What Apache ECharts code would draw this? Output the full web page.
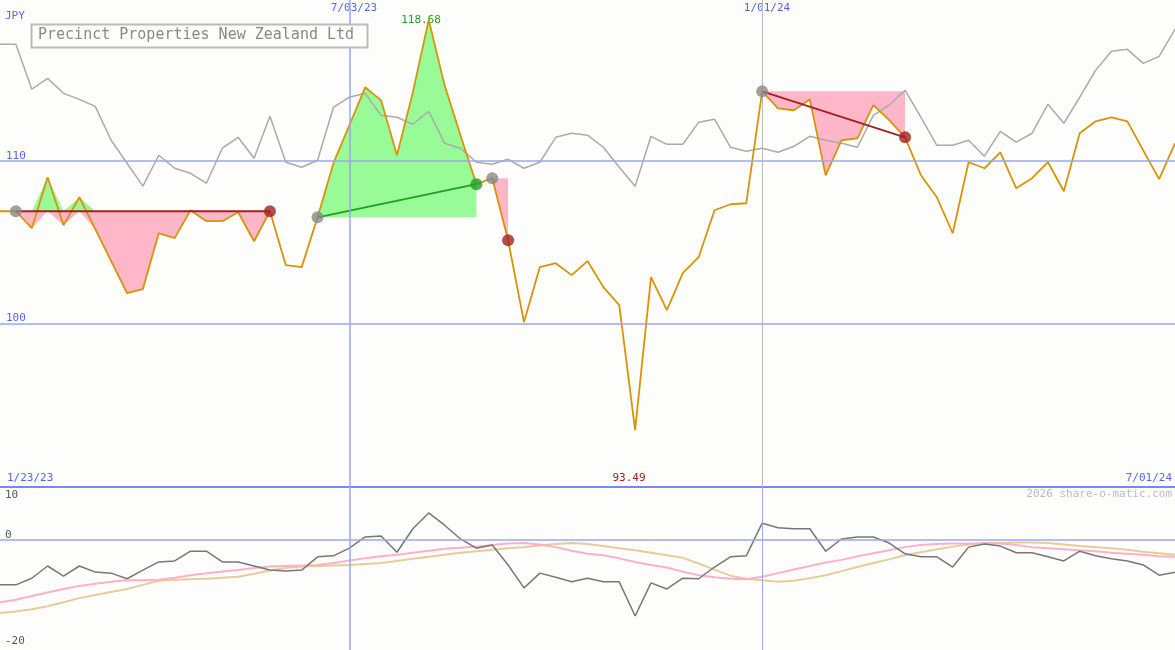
<!DOCTYPE html>
<html>
<head>
<meta charset="utf-8">
<script src="https://cdn.jsdelivr.net/npm/echarts@6/dist/echarts.min.js"></script>
<style>
html,body{margin:0;padding:0;background:#fdfefb;}
#chart{width:1175px;height:650px;}
</style>
</head>
<body>
<div id="chart"></div>
<script>
// weekly closes, 1/23/23 .. 7/01/24
var weeks = [];
for (var w = 0; w < 75; w++) weeks.push(w);

var price = [106.93,106.93,105.89,109.02,106.07,107.79,105.83,103.87,101.90,102.15,
    105.58,105.28,106.99,106.32,106.32,106.87,105.09,106.93,103.62,103.50,
    106.56,109.88,112.21,114.54,113.74,110.37,114.23,118.68,114.66,111.60,
    108.59,108.96,105.15,100.12,103.50,103.74,103.01,103.87,102.27,101.17,
    93.49,102.88,100.86,103.13,104.11,106.99,107.36,107.42,114.29,113.25,
    113.13,113.80,109.14,111.29,111.41,113.44,112.52,111.47,109.14,107.79,
    105.58,109.94,109.57,110.55,108.34,108.96,109.94,108.16,111.72,112.45,
    112.70,112.45,110.67,108.90,111.10];

var market = [117.18,117.18,114.42,115.09,114.17,113.80,113.37,111.29,109.88,108.47,
    110.37,109.57,109.26,108.65,110.80,111.47,110.18,112.76,109.94,109.63,
    110.06,113.31,113.93,114.17,112.82,112.70,112.27,113.07,111.10,110.80,
    109.94,109.82,110.12,109.57,109.94,111.47,111.72,111.60,110.86,109.63,
    108.47,111.53,111.04,111.04,112.39,112.58,110.86,110.61,110.80,110.55,
    110.92,111.53,111.29,111.10,110.86,112.82,113.44,114.36,112.70,110.98,
    110.98,111.29,110.31,111.84,111.17,111.72,113.50,112.33,113.93,115.58,
    116.75,116.87,116.01,116.44,118.10];

var momentum = [-8.8,-8.8,-7.5,-5.1,-7.1,-5.1,-6.3,-6.5,-7.6,-5.9,
    -4.3,-4.1,-2.2,-2.2,-4.3,-4.3,-5.1,-5.9,-6.1,-5.9,
    -3.3,-3.1,-1.6,0.6,0.8,-2.4,2.2,5.3,2.9,0.2,
    -1.6,-1.0,-4.9,-9.4,-6.5,-7.3,-8.2,-7.5,-8.2,-8.2,
    -14.9,-8.4,-9.6,-7.5,-7.6,-5.3,-3.3,-3.1,3.3,2.4,
    2.2,2.2,-2.2,0.2,0.6,0.6,-0.6,-2.7,-3.3,-3.3,
    -5.3,-1.4,-0.8,-1.2,-2.5,-2.5,-3.3,-4.1,-2.2,-3.1,
    -3.7,-4.1,-4.9,-6.9,-6.3];

var avgFast = [-12.2,-11.7,-11.0,-10.3,-9.6,-9.0,-8.6,-8.2,-7.9,-7.9,
    -7.8,-7.4,-6.9,-6.5,-6.2,-5.9,-5.5,-5.2,-5.1,-5.0,
    -4.9,-4.5,-4.0,-3.6,-3.2,-2.9,-2.5,-2.1,-1.7,-1.5,
    -1.3,-1.0,-0.7,-0.6,-0.9,-1.4,-2.1,-2.7,-3.0,-3.6,
    -4.3,-4.9,-5.4,-6.2,-6.9,-7.3,-7.6,-7.7,-7.2,-6.5,
    -5.8,-5.1,-4.4,-3.9,-3.2,-2.6,-2.0,-1.4,-1.0,-0.8,
    -0.7,-0.7,-0.7,-0.7,-1.0,-1.4,-1.6,-1.8,-2.0,-2.2,
    -2.5,-2.7,-2.9,-3.2,-3.3];

var avgSlow = [-14.3,-14.0,-13.6,-13.0,-12.2,-11.4,-10.8,-10.2,-9.6,-8.8,
    -8.0,-7.8,-7.7,-7.6,-7.4,-7.2,-6.6,-6.0,-5.5,-5.2,
    -5.1,-5.0,-4.9,-4.7,-4.5,-4.1,-3.7,-3.3,-2.9,-2.5,
    -2.2,-1.9,-1.6,-1.4,-1.1,-0.8,-0.6,-0.8,-1.2,-1.6,
    -2.0,-2.5,-3.0,-3.5,-4.6,-5.8,-7.0,-7.6,-7.9,-8.2,
    -8.0,-7.5,-6.9,-6.1,-5.3,-4.5,-3.8,-3.0,-2.4,-1.8,
    -1.3,-0.9,-0.6,-0.6,-0.5,-0.5,-0.6,-0.9,-1.2,-1.4,
    -1.6,-1.9,-2.3,-2.6,-2.9];

// trades: entry/exit week, reference level for the fill, exit price
var trades = [
    {from: 1, to: 17, ref: 106.93, exit: 106.93, win: false, line: true},
    {from: 20, to: 30, ref: 106.56, exit: 108.59, win: true, flat: true, line: true},
    {from: 31, to: 32, ref: 108.96, exit: 105.15, win: false, line: false},
    {from: 48, to: 57, ref: 114.29, exit: 111.47, win: false, line: true}
];

var GREEN = '#98fb98', PINK = '#ffb6c9', ORANGE = '#d9920a';
var FONT = 'DejaVu Sans Mono';

var series = [];
trades.forEach(function (t, k) {
    var base = [], up = [], down = [];
    for (var i = 0; i < price.length; i++) {
        if (i < t.from || i > t.to) { base.push(null); up.push(null); down.push(null); continue; }
        var d = price[i] - t.ref;
        base.push(t.ref);
        if (t.flat) { up.push(d); down.push(0); }
        else { up.push(Math.max(d, 0)); down.push(Math.min(d, 0)); }
    }
    ['g', 'p'].forEach(function (s) {
        series.push({type: 'line', data: base, stack: 't' + k + s, stackStrategy: 'all',
            symbol: 'none', lineStyle: {opacity: 0}, silent: true, z: 1});
    });
    series.push({type: 'line', data: up, stack: 't' + k + 'g', stackStrategy: 'all', symbol: 'none',
        lineStyle: {opacity: 0}, areaStyle: {color: GREEN, opacity: 1}, silent: true, z: 1});
    series.push({type: 'line', data: down, stack: 't' + k + 'p', stackStrategy: 'all', symbol: 'none',
        lineStyle: {opacity: 0}, areaStyle: {color: PINK, opacity: 1}, silent: true, z: 1});
});

series.push({type: 'line', data: market, symbol: 'none', lineStyle: {color: '#aaaaaa', width: 1.5}, z: 2,
    markLine: {silent: true, symbol: 'none', label: {show: false},
        data: [{yAxis: 100, lineStyle: {color: '#9aa6f0', width: 1.5, type: 'solid'}},
               {yAxis: 110, lineStyle: {color: '#9aa6f0', width: 1.5, type: 'solid'}},
               {xAxis: 22, lineStyle: {color: '#9aa6f0', width: 1.5, type: 'solid'}},
               {xAxis: 48, lineStyle: {color: '#bbbbbb', width: 1, type: 'solid'}}]}});
series.push({type: 'line', data: price, symbol: 'none', lineStyle: {color: ORANGE, width: 1.8}, z: 3});

trades.forEach(function (t) {
    if (t.line) {
        var seg = [];
        for (var i = 0; i < price.length; i++) seg.push(i === t.from ? price[i] : (i === t.to ? t.exit : null));
        series.push({type: 'line', data: seg, connectNulls: true, symbol: 'none', z: 4,
            lineStyle: {color: t.win ? '#22a022' : '#a32020', width: 1.8}});
    }
    series.push({type: 'scatter', data: [[t.from, price[t.from]]], symbolSize: 12,
        itemStyle: {color: '#888888'}, z: 5});
    series.push({type: 'scatter', data: [[t.to, t.exit]], symbolSize: 12,
        itemStyle: {color: t.win ? '#22a022' : '#a32020'}, z: 5});
});

// lower panel
series.push({type: 'line', xAxisIndex: 1, yAxisIndex: 1, data: avgSlow, symbol: 'none',
    lineStyle: {color: '#e6cc99', width: 2}, z: 2,
    markLine: {silent: true, symbol: 'none', label: {show: false},
        data: [{yAxis: 0, lineStyle: {color: '#9aa6f0', width: 1.5, type: 'solid'}},
               {xAxis: 22, lineStyle: {color: '#9aa6f0', width: 1.5, type: 'solid'}},
               {xAxis: 48, lineStyle: {color: '#9aa6f0', width: 1, type: 'solid'}}]}});
series.push({type: 'line', xAxisIndex: 1, yAxisIndex: 1, data: avgFast, symbol: 'none',
    lineStyle: {color: '#ffb0c8', width: 2}, z: 3});
series.push({type: 'line', xAxisIndex: 1, yAxisIndex: 1, data: momentum, symbol: 'none',
    lineStyle: {color: '#777777', width: 1.5}, z: 4});

var chart = echarts.init(document.getElementById('chart'));
chart.setOption({
    backgroundColor: '#fdfefb',
    animation: false,
    grid: [
        {left: 0, right: 0, top: 0, height: 487},
        {left: 0, right: 0, top: 487, height: 163}
    ],
    xAxis: [
        {type: 'category', data: weeks, boundaryGap: false, gridIndex: 0,
            axisLine: {show: true, onZero: false, lineStyle: {color: '#7788ee', width: 2}},
            axisTick: {show: false}, axisLabel: {show: false}, splitLine: {show: false}},
        {type: 'category', data: weeks, boundaryGap: false, gridIndex: 1,
            axisLine: {show: false}, axisTick: {show: false}, axisLabel: {show: false}, splitLine: {show: false}}
    ],
    yAxis: [
        {type: 'value', gridIndex: 0, min: 90, max: 119.9, interval: 10,
            axisLine: {show: false}, axisTick: {show: false}, splitLine: {show: false},
            axisLabel: {inside: true, verticalAlign: 'bottom', showMinLabel: false, showMaxLabel: false,
                color: '#5566ee', fontFamily: FONT, fontSize: 11, margin: 6}},
        {type: 'value', gridIndex: 1, min: -21.57, max: 10.39,
            axisLine: {show: false}, axisTick: {show: false}, splitLine: {show: false}, axisLabel: {show: false}}
    ],
    series: series,
    graphic: [
        {type: 'rect', shape: {x: 31.5, y: 24.5, width: 336, height: 23},
            style: {fill: '#fdfefb', stroke: '#bbbbbb', lineWidth: 2}, z: 10},
        {type: 'text', left: 38, top: 28, z: 11,
            style: {text: 'Precinct Properties New Zealand Ltd', fill: '#888888', font: '15px "DejaVu Sans Mono"'}},
        {type: 'text', left: 5, top: 11, style: {text: 'JPY', fill: '#5566ee', font: '11px "DejaVu Sans Mono"'}},
        {type: 'text', x: 354, y: 3, style: {text: '7/03/23', fill: '#5566ee', font: '11px "DejaVu Sans Mono"', align: 'center'}},
        {type: 'text', x: 767, y: 3, style: {text: '1/01/24', fill: '#5566ee', font: '11px "DejaVu Sans Mono"', align: 'center'}},
        {type: 'text', x: 421, y: 15, style: {text: '118.68', fill: '#22a022', font: '11px "DejaVu Sans Mono"', align: 'center'}},
        {type: 'text', x: 629, y: 473, style: {text: '93.49', fill: '#a32020', font: '11px "DejaVu Sans Mono"', align: 'center'}},
        {type: 'text', left: 7, top: 473, style: {text: '1/23/23', fill: '#5566ee', font: '11px "DejaVu Sans Mono"'}},
        {type: 'text', right: 3, top: 473, style: {text: '7/01/24', fill: '#5566ee', font: '11px "DejaVu Sans Mono"'}},
        {type: 'text', right: 3, top: 489, style: {text: '2026 share-o-matic.com', fill: '#bbbbbb', font: '11px "DejaVu Sans Mono"'}},
        {type: 'text', left: 5, top: 490, style: {text: '10', fill: '#555555', font: '11px "DejaVu Sans Mono"'}},
        {type: 'text', left: 5, top: 530, style: {text: '0', fill: '#555555', font: '11px "DejaVu Sans Mono"'}},
        {type: 'text', left: 5, top: 636, style: {text: '-20', fill: '#555555', font: '11px "DejaVu Sans Mono"'}}
    ]
});
</script>
</body>
</html>
